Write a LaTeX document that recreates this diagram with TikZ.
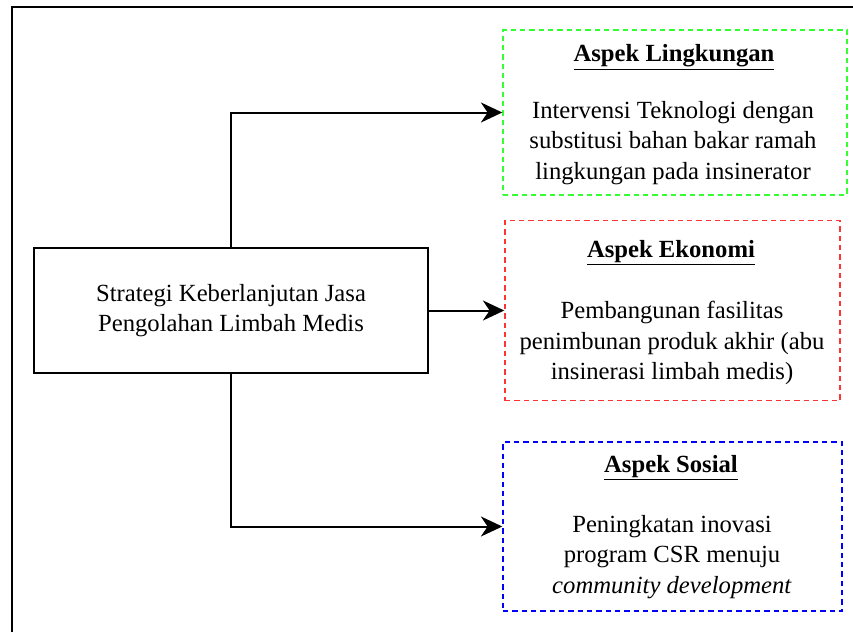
\documentclass[tikz,border=0pt]{standalone}
\usepackage{fontspec}
\setmainfont{Liberation Serif}
\usetikzlibrary{arrows.meta}

\definecolor{hijau}{RGB}{51,255,51}
\definecolor{merah}{RGB}{255,51,51}
\definecolor{biru}{RGB}{0,0,255}

\tikzset{
  kotak/.style={draw,line width=1.1pt,minimum width=295.5pt,minimum height=93.75pt},
  aspek/.style={draw,line width=1.1pt,dash pattern=on 4pt off 3pt},
  judul/.style={font=\fontsize{18.5}{22.5}\selectfont\bfseries},
  isi/.style={font=\fontsize{18.5}{23}\selectfont,align=center},
  panah/.style={line width=1.5pt,-{Stealth[length=16pt,width=15pt,inset=5pt]}}
}

\begin{document}
\begin{tikzpicture}[x=0.75pt,y=0.75pt,yscale=-1]
\useasboundingbox (0,0) rectangle (853,632);

%Frame
\draw[line width=1.6pt] (12,632) -- (12,7) -- (853,7);

%Main box
\node[kotak,isi] (strategi) at (231,310.5) {Strategi Keberlanjutan Jasa\\Pengolahan Limbah Medis};

%Dashed boxes
\node[aspek,hijau,minimum width=258pt,minimum height=123.75pt] (lingkungan) at (675,112.5) {};
\node[aspek,merah,minimum width=251.25pt,minimum height=135pt] (ekonomi) at (672.5,310.5) {};
\node[aspek,biru,minimum width=254.25pt,minimum height=126.75pt] (sosial) at (672.5,526.5) {};

%Titles
\node[judul] (judulL) at (674,57) {\underline{Aspek Lingkungan}};
\node[judul] (judulE) at (671,253) {\underline{Aspek Ekonomi}};
\node[judul] (judulS) at (671,468) {\underline{Aspek Sosial}};

%Texts
\node[isi] (isiL) at (673,143) {Intervensi Teknologi dengan\\substitusi bahan bakar ramah\\lingkungan pada insinerator};
\node[isi] (isiE) at (672,343) {Pembangunan fasilitas\\penimbunan produk akhir (abu\\insinerasi limbah medis)};
\node[isi] (isiS) at (672,557) {Peningkatan inovasi\\program CSR menuju\\\textit{community development}};

%Arrows
\draw[panah] (strategi.north) |- (lingkungan.west);
\draw[panah] (strategi.east) -- (ekonomi.west);
\draw[panah] (strategi.south) |- (sosial.west);
\end{tikzpicture}
\end{document}
